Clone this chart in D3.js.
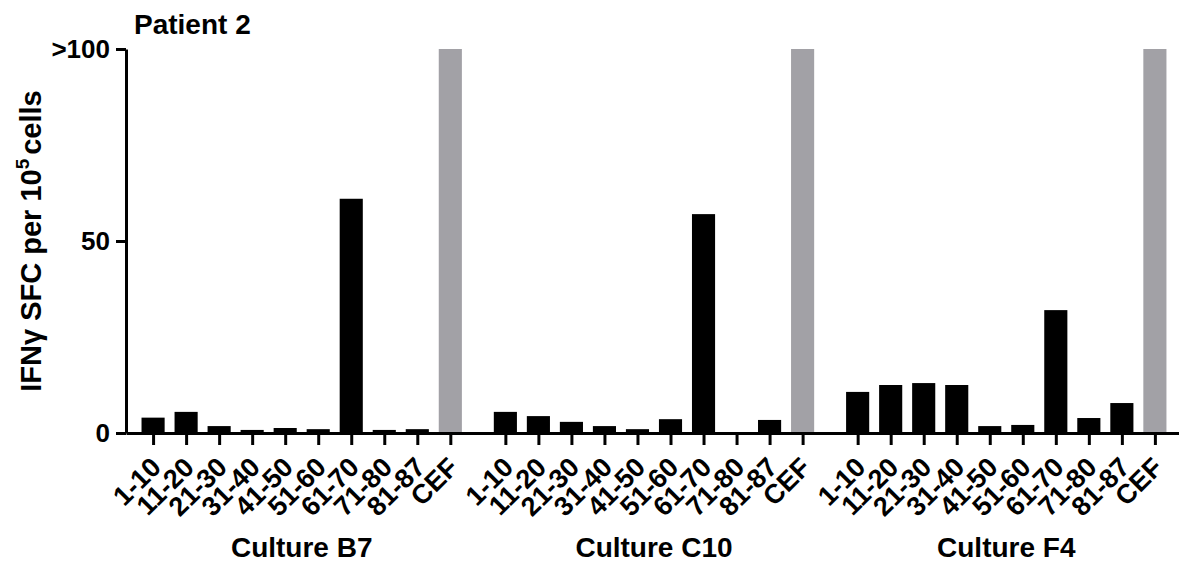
<!DOCTYPE html>
<html>
<head>
<meta charset="utf-8">
<script src="https://cdn.jsdelivr.net/npm/d3@7"></script>
<style>
  body { margin: 0; background: #fff; }
  svg { display: block; font-family: "Liberation Sans", Arial, sans-serif; font-weight: bold; }
</style>
</head>
<body>
<div id="chart"></div>
<script>
// Données
const groups = ["Culture B7", "Culture C10", "Culture F4"];
const peptides = ["1-10", "11-20", "21-30", "31-40", "41-50", "51-60", "61-70", "71-80", "81-87", "CEF"];
const b7 = [4.0, 5.5, 1.8, 0.8, 1.3, 1.0, 61, 0.8, 1.0, 100];
const c10 = [5.5, 4.4, 2.9, 1.8, 1.0, 3.6, 57, 0, 3.4, 100];
const f4 = [10.7, 12.5, 13.0, 12.5, 1.8, 2.1, 32, 3.9, 7.8, 100];
const yTicks = [0, 50, 100];
const yTickLabels = ["0", "50", ">100"];

const series = [b7, c10, f4];

const width = 1179, height = 567;
const margin = { top: 49, right: 0, bottom: 134, left: 126 };

const groupGap = 55 / 33; // écart entre groupes, en pas de barre
const slot = (g, i) => g * (peptides.length - 1 + groupGap) + i;
const lastSlot = slot(groups.length - 1, peptides.length - 1);

const x = d3.scaleLinear()
    .domain([-0.82, lastSlot + 0.73])
    .range([margin.left, width - margin.right]);
const step = x(1) - x(0);
const barW = step * 0.7;

const y = d3.scaleLinear()
    .domain([0, 100])
    .range([height - margin.bottom, margin.top]);

const bars = [];
series.forEach((vals, g) => vals.forEach((v, i) => {
    bars.push({ g: g, i: i, slot: slot(g, i), value: v, label: peptides[i] });
}));

const svg = d3.select("#chart").append("svg")
    .attr("width", width)
    .attr("height", height);

// Barres
svg.selectAll("rect.bar")
    .data(bars)
    .enter()
    .append("rect")
    .attr("class", "bar")
    .attr("x", d => x(d.slot) - barW / 2)
    .attr("width", barW)
    .attr("y", d => y(d.value))
    .attr("height", d => y(0) - y(d.value))
    .attr("fill", d => d.label === "CEF" ? "#a2a1a6" : "#000");

// Axe X
const xAxis = svg.append("g")
    .attr("transform", `translate(0,${y(0)})`)
    .call(d3.axisBottom(x)
        .tickValues(bars.map(d => d.slot))
        .tickFormat(s => bars.find(d => d.slot === s).label)
        .tickSize(12)
        .tickSizeOuter(0));
xAxis.select(".domain").attr("stroke-width", 3);
xAxis.selectAll(".tick line").attr("stroke-width", 3);
xAxis.selectAll(".tick text")
    .attr("font-size", 27)
    .attr("font-weight", "bold")
    .attr("fill", "#000")
    .attr("text-anchor", "end")
    .attr("dy", null)
    .attr("y", null)
    .attr("transform", "translate(9,36) rotate(-45)");

// Axe Y
const yAxis = svg.append("g")
    .attr("transform", `translate(${margin.left},0)`)
    .call(d3.axisLeft(y)
        .tickValues(yTicks)
        .tickFormat((d, i) => yTickLabels[i])
        .tickSize(10)
        .tickSizeOuter(0)
        .tickPadding(6));
yAxis.select(".domain").attr("stroke-width", 3);
yAxis.selectAll(".tick line").attr("stroke-width", 3);
yAxis.selectAll(".tick text")
    .attr("font-size", 26)
    .attr("font-weight", "bold")
    .attr("fill", "#000");

// Titres de groupe
svg.selectAll("text.group")
    .data(groups)
    .enter()
    .append("text")
    .attr("class", "group")
    .attr("x", (d, g) => (x(slot(g, 0)) + x(slot(g, peptides.length - 1))) / 2)
    .attr("y", 557)
    .attr("text-anchor", "middle")
    .attr("font-size", 28)
    .text(d => d);

// Titre
svg.append("text")
    .attr("x", 134)
    .attr("y", 34)
    .attr("font-size", 28)
    .text("Patient 2");

// Titre axe Y
const yt = svg.append("text")
    .attr("transform", `translate(41,${(y(0) + y(100)) / 2 }) rotate(-90)`)
    .attr("text-anchor", "middle")
    .attr("font-size", 29);
yt.append("tspan").text("IFNγ SFC per 10");
yt.append("tspan").attr("font-size", 19).attr("dy", -12).text("5");
yt.append("tspan").attr("dx", 4).attr("dy", 12).text("cells");
</script>
</body>
</html>
